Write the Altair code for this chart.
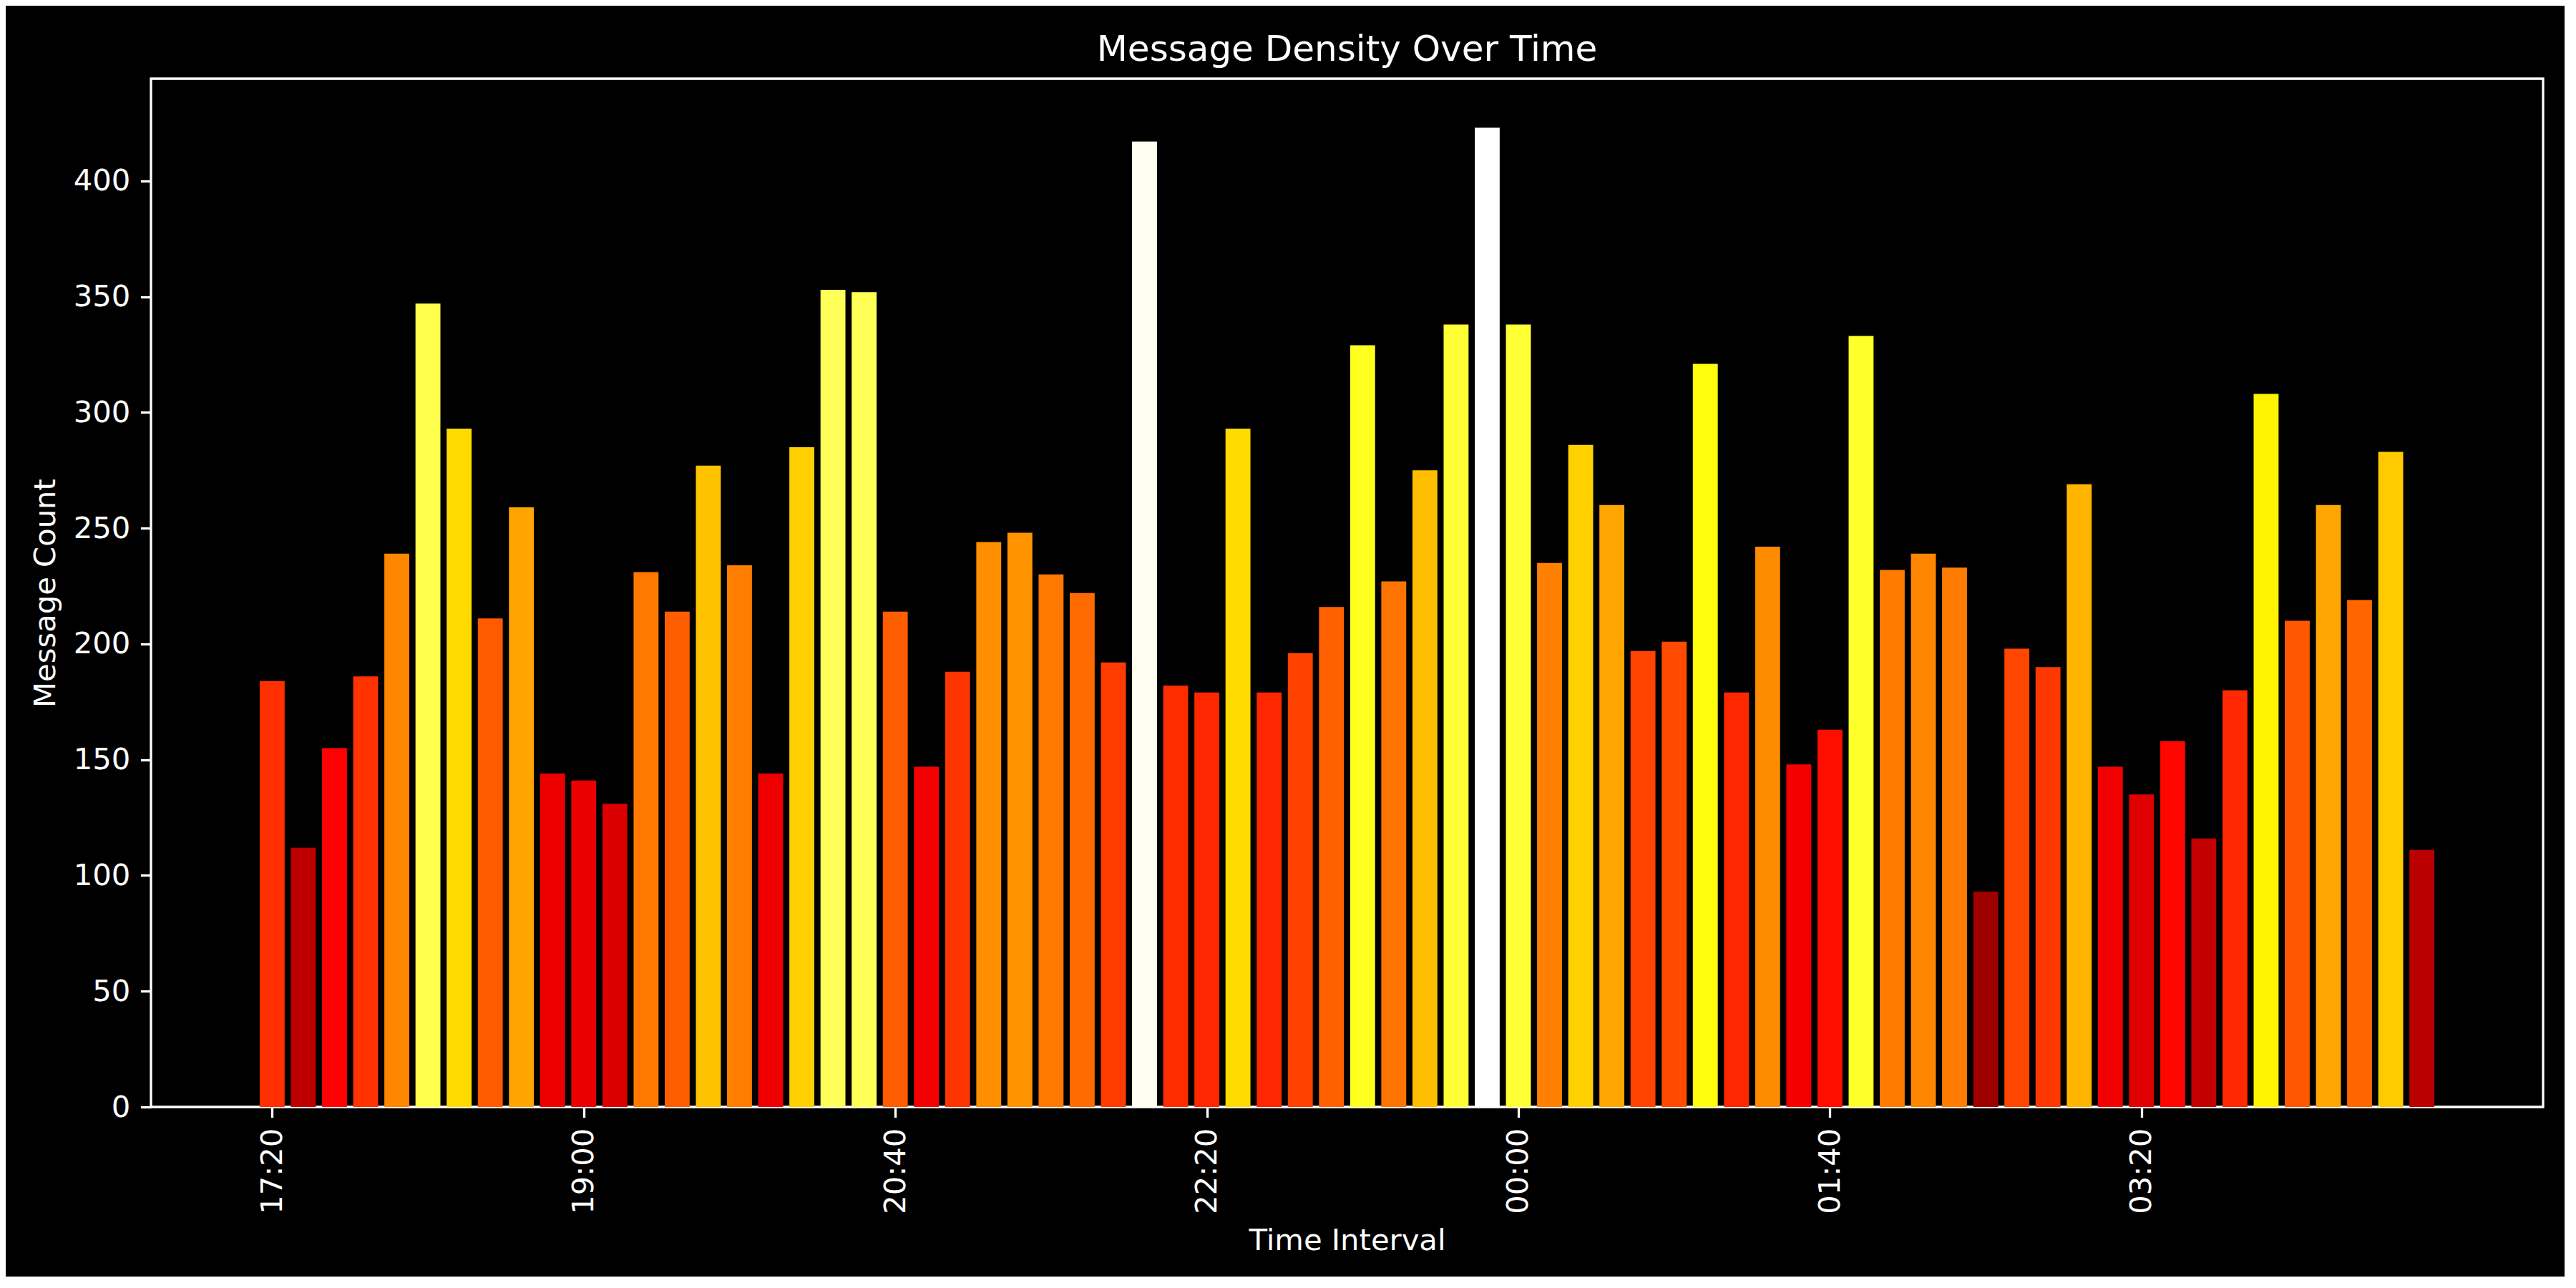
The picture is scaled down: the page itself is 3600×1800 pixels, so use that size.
import altair as alt
import pandas as pd

# Message counts per 10-minute interval starting at 17:20
counts = [184, 112, 155, 186, 239, 347, 293, 211, 259, 144,
          141, 131, 231, 214, 277, 234, 144, 285, 353, 352,
          214, 147, 188, 244, 248, 230, 222, 192, 417, 182,
          179, 293, 179, 196, 216, 329, 227, 275, 338, 423,
          338, 235, 286, 260, 197, 201, 321, 179, 242, 148,
          163, 333, 232, 239, 233, 93, 198, 190, 269, 147,
          135, 158, 116, 180, 308, 210, 260, 219, 283, 111]
interval_minutes = 10
minutes = [i * interval_minutes for i in range(len(counts))]
tick_values = [0, 100, 200, 300, 400, 500, 600]
tick_labels = ["17:20", "19:00", "20:40", "22:20", "00:00", "01:40", "03:20"]
y_ticks = [0, 50, 100, 150, 200, 250, 300, 350, 400]

df = pd.DataFrame({"t": minutes, "count": counts})

M = max(counts)
hot_domain = [0, 0.365079 * M, 0.746032 * M, M]
hot_range = ["#0b0000", "#ff0000", "#ffff00", "#ffffff"]

label_expr = "[" + ",".join("'%s'" % s for s in tick_labels) + "][round(datum.value/100)]"

FONT = "DejaVu Sans"

chart = alt.Chart(df).transform_calculate(
    x0="datum.t - 4", x1="datum.t + 4"
).mark_bar().encode(
    x=alt.X("x0:Q",
            scale=alt.Scale(domain=[-38.9, 728.9], nice=False, zero=False),
            axis=alt.Axis(values=tick_values, labelExpr=label_expr, labelAngle=270,
                          title="Time Interval")),
    x2="x1:Q",
    y=alt.Y("count:Q",
            scale=alt.Scale(domain=[0, 444.15], nice=False),
            axis=alt.Axis(values=y_ticks, title="Message Count")),
    y2=alt.datum(0),
    color=alt.Color("count:Q",
                    scale=alt.Scale(domain=hot_domain, range=hot_range, interpolate="rgb"),
                    legend=None),
).properties(
    width=3343,
    height=1437,
    title=alt.TitleParams("Message Density Over Time", fontSize=50, color="white",
                          font=FONT, fontWeight="normal", offset=15),
    autosize=alt.AutoSizeParams(type="none"),
    padding={"left": 203, "top": 102, "right": 30, "bottom": 237},
    background="black",
).configure_view(
    stroke="white", strokeWidth=3.3
).configure_axis(
    domain=False, grid=False,
    tickColor="white", tickWidth=3.3, tickSize=14.6,
    labelColor="white", labelFont=FONT, labelFontSize=41.7, labelPadding=14.6,
    titleColor="white", titleFont=FONT, titleFontSize=41.7, titleFontWeight="normal",
    titlePadding=16.7,
)

chart.save("out.html", embed_options={"renderer": "svg", "actions": False})
